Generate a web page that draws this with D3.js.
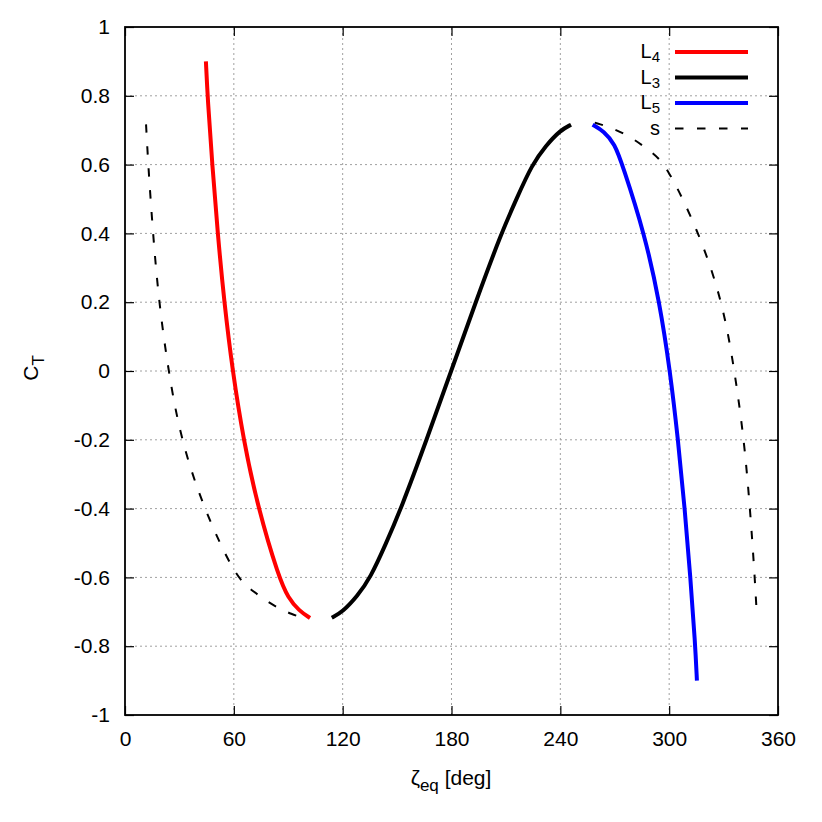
<!DOCTYPE html>
<html>
<head>
<meta charset="utf-8">
<script src="https://cdn.jsdelivr.net/npm/d3@7"></script>
<style>
  body { margin: 0; background: #fff; }
  text { font-family: "Liberation Sans", Arial, sans-serif; }
</style>
</head>
<body>
<script>
// C_T 随 zeta_eq 变化曲线（四条：L4、L3、L5、s）
let W = 822, H = 822
let margin = { left: 125, top: 27, right: 44, bottom: 107 }

// 数据（从图上读出来的）
let L4 = [[44.6, 0.9], [45.6, 0.79], [48.1, 0.6], [51.1, 0.4], [54.7, 0.2], [59.3, 0], [65.3, -0.2],
  [73.4, -0.4], [84.8, -0.6], [90, -0.66], [96, -0.697], [102, -0.718]]
let L3 = [[114, -0.717], [120, -0.70], [128, -0.655], [135.4, -0.6], [143.6, -0.505], [152.2, -0.4],
  [166.3, -0.2], [179.8, 0], [193.3, 0.2], [207.4, 0.4], [216.2, 0.505], [224.4, 0.6], [232, 0.655],
  [240, 0.70], [245.9, 0.716]]
let L5 = [[257.8, 0.716], [264, 0.697], [270, 0.66], [274.2, 0.6], [286.4, 0.4], [294.7, 0.2], [300.5, 0],
  [304.9, -0.2], [308.6, -0.4], [311.7, -0.6], [314.3, -0.79], [315.3, -0.9]]
let S_left = [[11.6, 0.717], [12.8, 0.6], [15.4, 0.4], [18.7, 0.2], [23.9, 0], [30.8, -0.2], [43.4, -0.4],
  [61, -0.6], [70, -0.638], [81, -0.68], [92, -0.708], [101, -0.722]]
let S_right = [[259, 0.722], [268, 0.708], [279, 0.68], [290, 0.638], [298.5, 0.6], [316.7, 0.4],
  [329.5, 0.2], [336.1, 0], [341.3, -0.2], [344.6, -0.4], [347.2, -0.6], [348.4, -0.717]]

let xTicks = [0, 60, 120, 180, 240, 300, 360]
let yTicks = [-1, -0.8, -0.6, -0.4, -0.2, 0, 0.2, 0.4, 0.6, 0.8, 1]

let series = [
  { name: 'L', sub: '4', data: [L4], color: '#ff0000', dash: null, width: 4 },
  { name: 'L', sub: '3', data: [L3], color: '#000000', dash: null, width: 4 },
  { name: 'L', sub: '5', data: [L5], color: '#0000ff', dash: null, width: 4 },
  { name: 's', sub: '', data: [S_left, S_right], color: '#000000', dash: '8.5,13.5', width: 2 }
]

let svg = d3.select('body').append('svg').attr('width', W).attr('height', H)

let xScale = d3.scaleLinear().domain([0, 360]).range([margin.left, W - margin.right])
let yScale = d3.scaleLinear().domain([-1, 1]).range([H - margin.bottom, margin.top])

// 网格
let grid = svg.append('g')
grid.selectAll('.gx').data(xTicks.slice(1, -1)).enter().append('line')
  .attr('x1', d => xScale(d)).attr('x2', d => xScale(d))
  .attr('y1', yScale(-1)).attr('y2', yScale(1))
  .attr('stroke', '#a0a0a0').attr('stroke-width', 1).attr('stroke-dasharray', '2,3')
grid.selectAll('.gy').data(yTicks.slice(1, -1)).enter().append('line')
  .attr('y1', d => yScale(d)).attr('y2', d => yScale(d))
  .attr('x1', xScale(0)).attr('x2', xScale(360))
  .attr('stroke', '#a0a0a0').attr('stroke-width', 1).attr('stroke-dasharray', '2,3')

// 坐标轴（刻度朝内，四边都有）
let fmt = d => String(+d.toFixed(1))
svg.append('g').attr('transform', 'translate(0,' + yScale(-1) + ')')
  .call(d3.axisBottom(xScale).tickValues(xTicks).tickSize(-9).tickPadding(16).tickFormat(fmt))
svg.append('g').attr('transform', 'translate(0,' + yScale(1) + ')')
  .call(d3.axisTop(xScale).tickValues(xTicks).tickSize(-9).tickFormat(''))
svg.append('g').attr('transform', 'translate(' + xScale(0) + ',0)')
  .call(d3.axisLeft(yScale).tickValues(yTicks).tickSize(-9).tickPadding(15).tickFormat(fmt))
svg.append('g').attr('transform', 'translate(' + xScale(360) + ',0)')
  .call(d3.axisRight(yScale).tickValues(yTicks).tickSize(-9).tickFormat(''))
svg.selectAll('.domain').remove()
svg.selectAll('.tick line').attr('stroke', '#000').attr('stroke-width', 1.2)
svg.selectAll('.tick text').attr('font-size', '21px').attr('fill', '#000')
  .style('font-family', '"Liberation Sans", Arial, sans-serif')

// 曲线
let line = d3.line()
  .x(d => xScale(d[0])).y(d => yScale(d[1]))
  .curve(d3.curveBasis)
series.forEach(s => {
  s.data.forEach(arr => {
    svg.append('path').datum(arr)
      .attr('d', line)
      .attr('fill', 'none')
      .attr('stroke', s.color)
      .attr('stroke-width', s.width)
      .attr('stroke-dasharray', s.dash)
  })
})

// 边框
svg.append('rect')
  .attr('x', xScale(0)).attr('y', yScale(1))
  .attr('width', xScale(360) - xScale(0)).attr('height', yScale(-1) - yScale(1))
  .attr('fill', 'none').attr('stroke', '#000').attr('stroke-width', 1.8)

// 图例
let legend = svg.append('g')
series.forEach((s, i) => {
  let y = 52 + i * 25.5
  let t = legend.append('text').attr('x', 660).attr('y', y + 6)
    .attr('text-anchor', 'end').attr('font-size', '20px')
  t.append('tspan').text(s.name)
  if (s.sub) t.append('tspan').attr('font-size', '15px').attr('dy', 4).text(s.sub)
  legend.append('line')
    .attr('x1', 675).attr('x2', 748).attr('y1', y).attr('y2', y)
    .attr('stroke', s.color).attr('stroke-width', s.width)
    .attr('stroke-dasharray', s.dash)
})

// 轴标题
let xl = svg.append('text').attr('x', 451).attr('y', 785)
  .attr('text-anchor', 'middle').attr('font-size', '21px')
xl.append('tspan').text('ζ')
xl.append('tspan').attr('font-size', '17px').attr('dy', 6).text('eq')
xl.append('tspan').attr('dy', -6).text(' [deg]')

let yl = svg.append('text')
  .attr('transform', 'translate(38,368) rotate(-90)')
  .attr('text-anchor', 'middle').attr('font-size', '21px')
yl.append('tspan').text('C')
yl.append('tspan').attr('font-size', '17px').attr('dy', 6).text('T')
</script>
</body>
</html>
